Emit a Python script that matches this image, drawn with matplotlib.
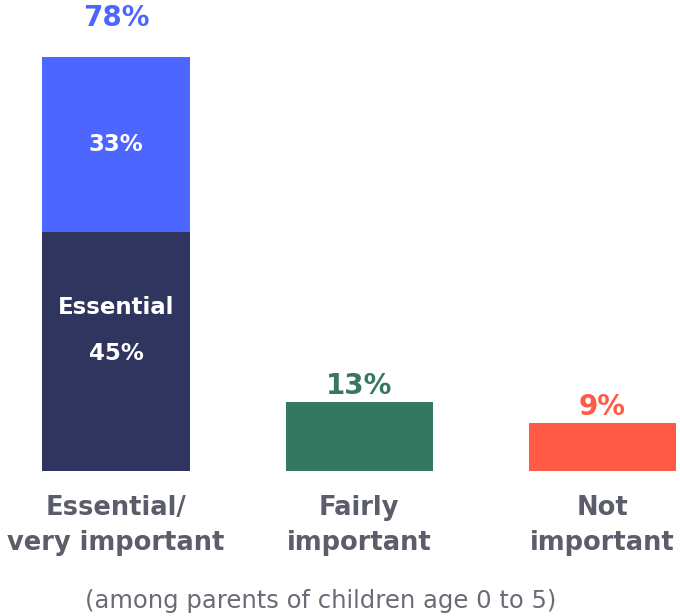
import matplotlib.pyplot as plt

# Data
categories = ['Essential/\nvery important', 'Fairly\nimportant', 'Not\nimportant']
essential = [45, 0, 0]
very_important = [33, 0, 0]
totals = [78, 13, 9]
bar_colors = ['#2F355E', '#367762', '#FF5A45']
label_colors = ['#4D66FF', '#367762', '#FF5A45']
note = '(among parents of children age 0 to 5)'

plt.rcParams['font.family'] = ['DejaVu Sans']

fig = plt.figure(figsize=(6.8, 6.16), dpi=100)
ax = fig.add_axes([0, 0, 1, 1])
ax.set_xlim(-0.477, 2.319)
ax.set_ylim(-27.3, 88.7)
ax.axis('off')

x = range(len(categories))
width = 0.605

# bottom segments (or single bar)
bottoms = [essential[0], totals[1], totals[2]]
ax.bar(x, bottoms, width=width, color=bar_colors)
# stacked top segment on first bar
ax.bar(0, very_important[0], bottom=essential[0], width=width, color='#4D66FF')

# totals above bars (first one sits higher above the stack)
gaps = [7.3, 3.0, 3.0]
for i, v in enumerate(totals):
    ax.text(i, v + gaps[i], f'{v}%', ha='center', va='center', fontsize=20,
            fontweight='bold', color=label_colors[i])

# inner labels on first bar
ax.text(0, essential[0] + very_important[0] / 2, f'{very_important[0]}%',
        ha='center', va='center', fontsize=16.5, fontweight='bold', color='white')
ax.text(0, 30.7, 'Essential', ha='center', va='center', fontsize=16.5,
        fontweight='bold', color='white')
ax.text(0, 22.2, f'{essential[0]}%', ha='center', va='center', fontsize=16.5,
        fontweight='bold', color='white')

# category labels
for i, c in enumerate(categories):
    ax.text(i, -10.3, c, ha='center', va='center', fontsize=18.5, fontweight='bold',
            color='#5B5E6A', linespacing=1.47)

ax.text(0.472, 0.024, note, transform=fig.transFigure, ha='center', va='center',
        fontsize=17.5, color='#6A6C75')

fig.savefig('out.png', dpi=100)
